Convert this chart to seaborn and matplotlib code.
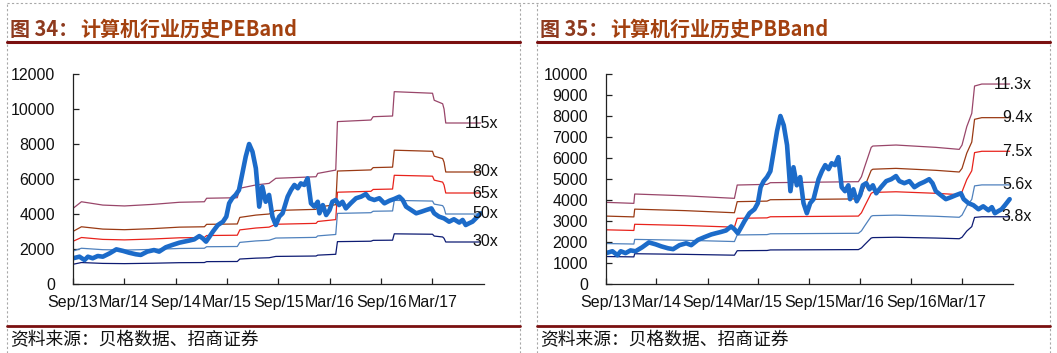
import matplotlib
matplotlib.use("Agg")
import matplotlib.pyplot as plt
from matplotlib.lines import Line2D
import pandas as pd
import seaborn as sns

# 计算机行业指数 (same index drawn in both panels)
index_dates = [
    "2013-09-01", "2013-09-24", "2013-10-12", "2013-10-24", "2013-11-10", "2013-11-28",
    "2013-12-16", "2014-01-09", "2014-02-02", "2014-02-26", "2014-03-19", "2014-04-12",
    "2014-04-30", "2014-05-23", "2014-06-16", "2014-07-04", "2014-07-28", "2014-08-20",
    "2014-09-14", "2014-10-01", "2014-10-19", "2014-11-06", "2014-11-24", "2014-12-06",
    "2014-12-18", "2014-12-30", "2015-01-11", "2015-01-29", "2015-02-16", "2015-02-28",
    "2015-03-10", "2015-03-21", "2015-04-02", "2015-04-14", "2015-04-26", "2015-05-08",
    "2015-05-20", "2015-06-01", "2015-06-13", "2015-06-25", "2015-07-06", "2015-07-18",
    "2015-07-30", "2015-08-11", "2015-08-23", "2015-09-04", "2015-09-16", "2015-10-04",
    "2015-10-16", "2015-10-28", "2015-11-09", "2015-11-20", "2015-12-02", "2015-12-14",
    "2015-12-26", "2016-01-07", "2016-01-19", "2016-01-25", "2016-02-06", "2016-02-18",
    "2016-03-01", "2016-03-11", "2016-03-23", "2016-04-04", "2016-04-16", "2016-04-28",
    "2016-05-15", "2016-06-03", "2016-06-21", "2016-07-08", "2016-07-20", "2016-08-07",
    "2016-08-25", "2016-09-12", "2016-09-30", "2016-10-17", "2016-11-04", "2016-11-16",
    "2016-11-28", "2016-12-16", "2017-01-03", "2017-01-21", "2017-02-08", "2017-02-26",
    "2017-03-08", "2017-03-25", "2017-04-12", "2017-04-30", "2017-05-17", "2017-06-05",
    "2017-06-17", "2017-06-28", "2017-07-10", "2017-07-22", "2017-08-03", "2017-08-20",
]
index_values = [
    1470, 1560, 1370, 1560, 1470, 1600,
    1560, 1750, 1980, 1890, 1790, 1700,
    1660, 1850, 1940, 1850, 2100, 2230,
    2360, 2420, 2480, 2550, 2740, 2610,
    2420, 2700, 2990, 3370, 3560, 3850,
    4610, 4900, 5090, 5370, 6320, 7280,
    8000, 7560, 6610, 4420, 5560, 4700,
    5090, 3850, 3370, 3850, 4040, 4990,
    5370, 5660, 5470, 5750, 5660, 6040,
    4610, 4420, 4700, 4040, 4510, 3940,
    4230, 4700, 4800, 4510, 4700, 4320,
    4610, 4900, 4990, 5140, 4900, 4800,
    4900, 4610, 4760, 4860, 4990, 4800,
    4420, 4230, 4040, 4130, 4230, 4320,
    4040, 3850, 3750, 3560, 3700, 3510,
    3660, 3370, 3470, 3560, 3750, 4040,
]

# PE band
pe_dates = [
    "2013-09-01", "2013-10-01", "2013-12-16", "2014-03-03", "2014-06-12", "2014-09-14",
    "2014-12-12", "2014-12-20", "2015-04-08", "2015-04-17", "2015-06-13", "2015-07-30",
    "2015-08-23", "2016-01-13", "2016-01-19", "2016-03-23", "2016-03-29", "2016-07-26",
    "2016-08-03", "2016-10-11", "2016-10-17", "2017-03-02", "2017-03-08", "2017-04-07",
    "2017-04-12", "2017-04-18", "2017-08-20",
]
pe_115 = [4320, 4700, 4510, 4460, 4550, 4670, 4700, 4900, 4930, 5470, 5660, 5750, 6040,
          6130, 6320, 6510, 9280, 9370, 9560, 9600, 10990, 10900, 10500, 10300, 10000, 9200, 9200]
pe_80 = [3005, 3270, 3138, 3103, 3165, 3249, 3270, 3409, 3430, 3805, 3938, 4000, 4202,
         4265, 4397, 4529, 6456, 6519, 6651, 6678, 7646, 7583, 7305, 7166, 6957, 6400, 6400]
pe_65 = [2442, 2657, 2549, 2521, 2572, 2640, 2657, 2770, 2787, 3092, 3199, 3250, 3414,
         3465, 3572, 3680, 5245, 5296, 5403, 5426, 6212, 6161, 5935, 5822, 5652, 5200, 5200]
pe_50 = [1878, 2043, 1961, 1939, 1978, 2030, 2043, 2130, 2143, 2378, 2461, 2500, 2626,
         2665, 2748, 2830, 4035, 4074, 4157, 4174, 4778, 4739, 4565, 4478, 4348, 4000, 4000]
pe_30 = [1127, 1226, 1177, 1164, 1187, 1218, 1226, 1278, 1286, 1427, 1477, 1500, 1576,
         1599, 1649, 1698, 2421, 2445, 2494, 2504, 2867, 2843, 2739, 2687, 2609, 2400, 2400]
pe_labels = ["115x", "80x", "65x", "50x", "30x"]

# PB band
pb_dates = [
    "2013-09-01", "2013-12-10", "2013-12-13", "2014-06-11", "2014-12-06", "2014-12-16",
    "2015-04-02", "2015-04-14", "2016-02-24", "2016-03-06", "2016-03-17", "2016-04-10",
    "2016-04-16", "2016-07-08", "2016-11-28", "2017-02-20", "2017-03-02", "2017-03-19",
    "2017-04-06", "2017-04-16", "2017-05-12", "2017-08-20",
]
pb_113 = [3888, 3840, 4285, 4200, 4079, 4713, 4745, 4824, 4872, 5110, 5560, 6507,
          6570, 6618, 6507, 6411, 6618, 7490, 8125, 9427, 9522, 9522]
pb_94 = [3234, 3195, 3565, 3494, 3393, 3921, 3947, 4013, 4053, 4251, 4625, 5413,
         5466, 5506, 5413, 5333, 5506, 6231, 6759, 7842, 7921, 7921]
pb_75 = [2580, 2549, 2844, 2788, 2707, 3128, 3149, 3202, 3234, 3392, 3690, 4319,
         4361, 4392, 4319, 4255, 4392, 4971, 5393, 6257, 6320, 6320]
pb_56 = [1927, 1903, 2124, 2082, 2022, 2336, 2352, 2391, 2415, 2532, 2756, 3225,
         3256, 3280, 3225, 3177, 3280, 3712, 4027, 4672, 4719, 4719]
pb_38 = [1308, 1291, 1441, 1412, 1372, 1585, 1596, 1622, 1638, 1718, 1870, 2188,
         2209, 2226, 2188, 2156, 2226, 2519, 2732, 3170, 3202, 3202]
pb_labels = ["11.3x", "9.4x", "7.5x", "5.6x", "3.8x"]

tick_dates = ["2013-09-01", "2014-03-01", "2014-09-01", "2015-03-01",
              "2015-09-01", "2016-03-01", "2016-09-01", "2017-03-01"]
tick_labels = ["Sep/13", "Mar/14", "Sep/14", "Mar/15", "Sep/15", "Mar/16", "Sep/16", "Mar/17"]

titles = [("图 34：", "计算机行业历史PEBand"), ("图 35：", "计算机行业历史PBBand")]
source = "资料来源：贝格数据、招商证券"

band_colors = ["#99466A", "#9A3A14", "#E8231C", "#4F81BD", "#0D1B73"]
index_color = "#1C6BC9"
maroon = "#7A1010"

sns.set_theme(style="white")
plt.rcParams["font.family"] = ["Liberation Sans", "Noto Sans CJK SC", "DejaVu Sans"]

W, H = 1057, 353
fig = plt.figure(figsize=(W / 100, H / 100), dpi=100)
fig.patch.set_facecolor("white")


def px_axes(x0, x1, y0, y1):
    return fig.add_axes([x0 / W, 1 - y1 / H, (x1 - x0) / W, (y1 - y0) / H])


def draw_panel(ax, band_dates, bands, labels, ymax, ystep, label_x):
    bd = pd.Series(pd.to_datetime(band_dates))
    for vals, col, lab in zip(bands, band_colors, labels):
        sns.lineplot(x=bd, y=vals, ax=ax, color=col, lw=0.9, estimator=None, sort=False)
        ax.text(label_x, vals[-1], lab, transform=ax.get_yaxis_transform(), ha="right",
                va="center", fontsize=11.5, color="#111111", clip_on=False)
    idx = pd.Series(pd.to_datetime(index_dates))
    sns.lineplot(x=idx, y=index_values, ax=ax, color=index_color, lw=3.3,
                 estimator=None, sort=False)
    ax.set_xlim(pd.Timestamp("2013-09-01"), pd.Timestamp("2017-09-01"))
    ax.set_ylim(0, ymax)
    ax.set_yticks(range(0, ymax + 1, ystep))
    ax.set_xticks(pd.to_datetime(tick_dates))
    ax.set_xticklabels(tick_labels)
    ax.set_xlabel("")
    ax.set_ylabel("")
    for s in ["top", "right"]:
        ax.spines[s].set_visible(False)
    for s in ["left", "bottom"]:
        ax.spines[s].set_color("#222222")
        ax.spines[s].set_linewidth(0.9)
    ax.tick_params(axis="both", direction="in", length=4, width=0.9, color="#222222",
                   labelsize=11.5, labelcolor="#111111")
    ax.tick_params(axis="y", pad=13, left=True)
    ax.tick_params(axis="x", pad=8, bottom=True)


ax1 = px_axes(73, 484, 74, 284)
draw_panel(ax1, pe_dates, [pe_115, pe_80, pe_65, pe_50, pe_30], pe_labels, 12000, 2000, 1.034)
ax2 = px_axes(606, 1013, 74, 284)
draw_panel(ax2, pb_dates, [pb_113, pb_94, pb_75, pb_56, pb_38], pb_labels, 10000, 1000, 1.047)

# panel frames, rules, titles, sources
dash = dict(color="#A8A8A8", lw=0.8, linestyle=(0, (2, 2)), transform=fig.transFigure)
fig.add_artist(Line2D([7 / W, 1050 / W], [1 - 3 / H, 1 - 3 / H], **dash))
for xv in [7, 520, 537, 1050]:
    fig.add_artist(Line2D([xv / W, xv / W], [0, 1 - 3 / H], **dash))

for (x0, x1), (head, body) in zip([(7, 520), (537, 1050)], titles):
    fig.add_artist(Line2D([x0 / W, x1 / W], [1 - 42 / H, 1 - 42 / H], color=maroon, lw=2.2,
                          transform=fig.transFigure))
    fig.add_artist(Line2D([x0 / W, x1 / W], [1 - 326 / H, 1 - 326 / H], color=maroon, lw=2.0,
                          transform=fig.transFigure))
    fig.text((x0 + 3) / W, 1 - 29 / H, head, fontsize=14.4, fontweight="bold", color="#8E3A1E",
             va="center", ha="left", family=["Noto Sans CJK SC", "DejaVu Sans"])
    fig.text((x0 + 73) / W, 1 - 29 / H, body, fontsize=14.4, fontweight="bold", color="#A3410F",
             va="center", ha="left", family=["Noto Sans CJK SC", "DejaVu Sans"])
    fig.text((x0 + 3) / W, 1 - 340 / H, source, fontsize=12.8, color="#111111",
             va="center", ha="left", family=["Noto Sans CJK SC", "DejaVu Sans"])

fig.savefig("out.png", dpi=100, facecolor="white")
